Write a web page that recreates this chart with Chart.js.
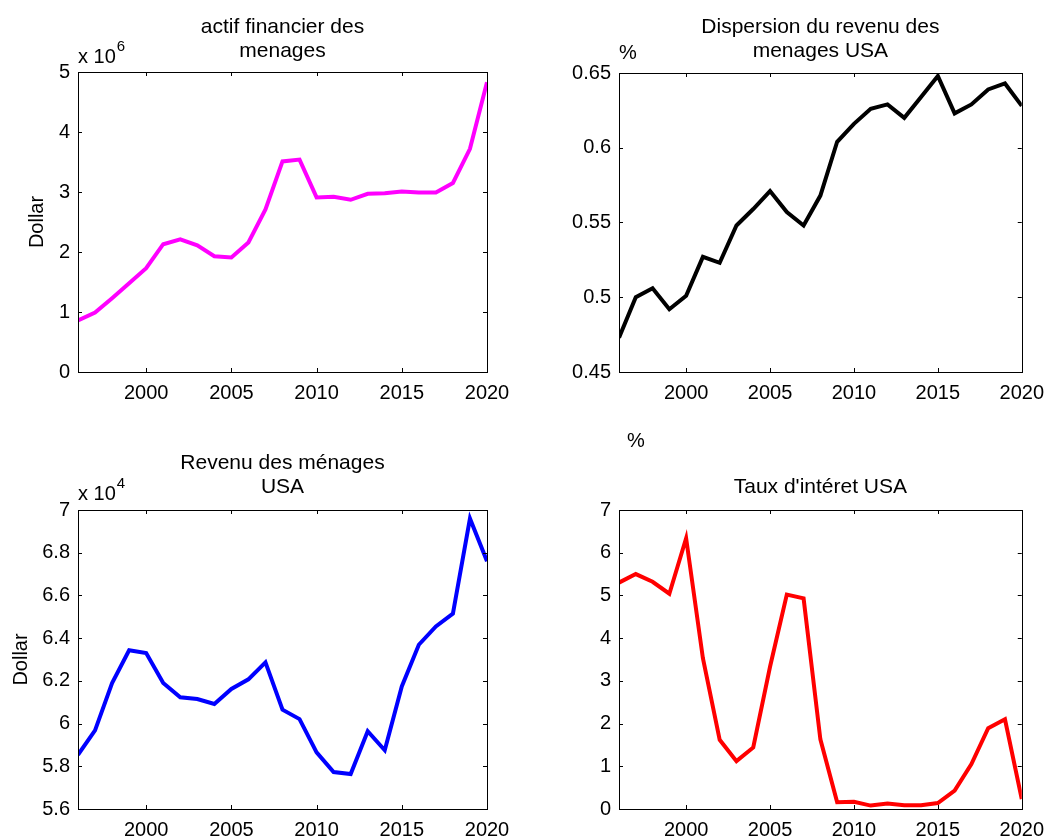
<!DOCTYPE html>
<html>
<head>
<meta charset="utf-8">
<script src="https://cdn.jsdelivr.net/npm/chart.js@4.4.0/dist/chart.umd.min.js"></script>
<style>
  html, body { margin: 0; padding: 0; background: #fff; }
  body { width: 1053px; height: 836px; position: relative; overflow: hidden; }
  canvas { position: absolute; }
</style>
</head>
<body>
<canvas id="c1" width="526" height="415" style="left:0px;top:0px"></canvas>
<canvas id="c2" width="523" height="415" style="left:530px;top:0px"></canvas>
<canvas id="c3" width="526" height="416" style="left:0px;top:420px"></canvas>
<canvas id="c4" width="523" height="416" style="left:530px;top:420px"></canvas>
<script>
// data
const years = [1996, 1997, 1998, 1999, 2000, 2001, 2002, 2003, 2004, 2005, 2006, 2007, 2008,
  2009, 2010, 2011, 2012, 2013, 2014, 2015, 2016, 2017, 2018, 2019, 2020];

// x 10^6 dollars
const actifFinancier = [0.86, 0.99, 1.23, 1.48, 1.73, 2.13, 2.21, 2.11, 1.93, 1.91, 2.16, 2.71, 3.51,
  3.54, 2.91, 2.92, 2.87, 2.97, 2.98, 3.01, 2.99, 2.99, 3.15, 3.72, 4.83];

const dispersion = [0.473, 0.500, 0.506, 0.492, 0.501, 0.527, 0.523, 0.548, 0.559, 0.571, 0.557, 0.548, 0.568,
  0.604, 0.616, 0.626, 0.629, 0.620, 0.634, 0.648, 0.623, 0.629, 0.639, 0.643, 0.628];

// x 10^4 dollars
const revenu = [5.854, 5.968, 6.19, 6.343, 6.33, 6.19, 6.123, 6.115, 6.092, 6.162, 6.207, 6.287, 6.065,
  6.021, 5.865, 5.773, 5.764, 5.964, 5.875, 6.174, 6.369, 6.455, 6.515, 6.96, 6.76];

const tauxInteret = [5.30, 5.50, 5.32, 5.04, 6.34, 3.53, 1.62, 1.12, 1.44, 3.33, 5.02, 4.93, 1.63,
  0.16, 0.17, 0.08, 0.13, 0.09, 0.09, 0.14, 0.43, 1.05, 1.89, 2.10, 0.23];

const xTicks = [2000, 2005, 2010, 2015, 2020];
const actifTicks = [0, 1, 2, 3, 4, 5];
const dispersionTicks = [0.45, 0.5, 0.55, 0.6, 0.65];
const revenuTicks = [5.6, 5.8, 6, 6.2, 6.4, 6.6, 6.8, 7];
const tauxTicks = [0, 1, 2, 3, 4, 5, 6, 7];

const FONT = '"Liberation Sans", Arial, Helvetica, sans-serif';

// matlab-like box with inward ticks, titles and exponent labels
const matlabBox = {
  id: 'matlabBox',
  afterDraw(chart, args, opts) {
    const { ctx, chartArea: a, scales } = chart;
    ctx.save();
    ctx.strokeStyle = '#000';
    ctx.lineWidth = 1;
    ctx.strokeRect(Math.round(a.left) + 0.5, Math.round(a.top) + 0.5,
      Math.round(a.right - a.left), Math.round(a.bottom - a.top));
    ctx.beginPath();
    scales.x.ticks.forEach(t => {
      const px = Math.round(scales.x.getPixelForValue(t.value)) + 0.5;
      ctx.moveTo(px, a.bottom); ctx.lineTo(px, a.bottom - 4);
      ctx.moveTo(px, a.top); ctx.lineTo(px, a.top + 4);
    });
    scales.y.ticks.forEach(t => {
      const py = Math.round(scales.y.getPixelForValue(t.value)) + 0.5;
      ctx.moveTo(a.left, py); ctx.lineTo(a.left + 4, py);
      ctx.moveTo(a.right, py); ctx.lineTo(a.right - 4, py);
    });
    ctx.stroke();

    ctx.fillStyle = '#000';
    ctx.font = '21px ' + FONT;
    ctx.textAlign = 'center';
    ctx.textBaseline = 'alphabetic';
    const cx = (a.left + a.right) / 2;
    opts.title.forEach((line, i) => {
      ctx.fillText(line, cx, a.top + opts.titleY + i * 24);
    });

    ctx.textAlign = 'left';
    if (opts.expo) {
      ctx.font = '20px ' + FONT;
      ctx.fillText('x 10', a.left, a.top + opts.expoY);
      const w = ctx.measureText('x 10').width;
      ctx.font = '15px ' + FONT;
      ctx.fillText(opts.expo, a.left + w + 1, a.top + opts.expoY - 12);
    }
    if (opts.unit) {
      ctx.font = '20px ' + FONT;
      ctx.fillText(opts.unit, a.left + opts.unitX, a.top + opts.unitY);
    }
    ctx.restore();
  }
};

function makeChart(id, values, color, yMin, yMax, yTicks, box, area, yTitle) {
  const canvas = document.getElementById(id);
  return new Chart(canvas, {
    type: 'line',
    data: {
      datasets: [{
        data: years.map((yr, i) => ({ x: yr, y: values[i] })),
        borderColor: color,
        borderWidth: 4,
        pointRadius: 0,
        tension: 0,
        fill: false
      }]
    },
    options: {
      responsive: false,
      animation: false,
      devicePixelRatio: 1,
      layout: {
        padding: { top: area.top, right: canvas.width - area.right, bottom: 0, left: 0 }
      },
      plugins: {
        legend: { display: false },
        tooltip: { enabled: false },
        matlabBox: box
      },
      scales: {
        x: {
          type: 'linear',
          min: 1996,
          max: 2020,
          grid: { display: false, drawTicks: false },
          border: { display: false },
          afterBuildTicks: s => { s.ticks = xTicks.map(v => ({ value: v })); },
          afterFit: s => { s.height = canvas.height - area.bottom; },
          ticks: {
            color: '#000',
            font: { family: FONT, size: 20 },
            padding: 9,
            maxRotation: 0,
            callback: v => String(v)
          }
        },
        y: {
          type: 'linear',
          min: yMin,
          max: yMax,
          grid: { display: false, drawTicks: false },
          border: { display: false },
          afterBuildTicks: s => { s.ticks = yTicks.map(v => ({ value: v })); },
          afterFit: s => { s.width = area.left; },
          title: yTitle ? {
            display: true,
            text: yTitle.text,
            color: '#000',
            font: { family: FONT, size: 20 },
            padding: { top: yTitle.pad, bottom: 0 }
          } : { display: false },
          ticks: {
            color: '#000',
            font: { family: FONT, size: 20 },
            padding: 8,
            callback: v => String(v)
          }
        }
      }
    },
    plugins: [matlabBox]
  });
}

makeChart('c1', actifFinancier, '#ff00ff', 0, 5, actifTicks,
  { title: ['actif financier des', 'menages'], titleY: -39, expo: '6', expoY: -9 },
  { left: 78, top: 72, right: 487, bottom: 372 },
  { text: 'Dollar', pad: 25 });

makeChart('c2', dispersion, '#000000', 0.45, 0.65, dispersionTicks,
  { title: ['Dispersion du revenu des', 'menages USA'], titleY: -40, unit: '%', unitX: 0, unitY: -14 },
  { left: 89, top: 73, right: 498, bottom: 372 },
  null);

makeChart('c3', revenu, '#0000ff', 5.6, 7, revenuTicks,
  { title: ['Revenu des ménages', 'USA'], titleY: -41, expo: '4', expoY: -10 },
  { left: 78, top: 90, right: 487, bottom: 389 },
  { text: 'Dollar', pad: 9 });

makeChart('c4', tauxInteret, '#ff0000', 0, 7, tauxTicks,
  { title: ["Taux d'intéret USA"], titleY: -17, unit: '%', unitX: 8, unitY: -63 },
  { left: 89, top: 90, right: 498, bottom: 389 },
  null);
</script>
</body>
</html>
